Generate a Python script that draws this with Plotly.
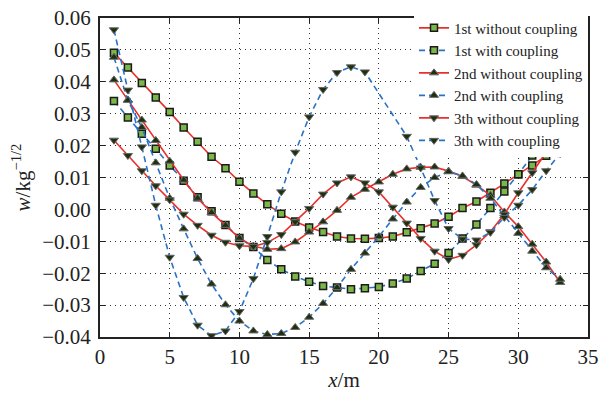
import plotly.graph_objects as go

x = list(range(1, 34))

first_wo = [0.0491, 0.0445, 0.0396, 0.0351, 0.0305, 0.0257, 0.0212, 0.0165, 0.0129, 0.0087,
            0.0050, 0.0016, -0.0014, -0.0038, -0.0057, -0.0071, -0.0085, -0.0091, -0.0092, -0.0090,
            -0.0085, -0.0072, -0.0059, -0.0044, -0.0023, 0.0004, 0.0025, 0.0052, 0.0081, 0.0110,
            0.0138, 0.0168, 0.0198]
first_w = [0.0340, 0.0288, 0.0237, 0.0190, 0.0138, 0.0090, 0.0038, -0.0006, -0.0049, -0.0090,
           -0.0118, -0.0159, -0.0188, -0.0210, -0.0227, -0.0240, -0.0245, -0.0250, -0.0247, -0.0243,
           -0.0232, -0.0217, -0.0193, -0.0170, -0.0137, -0.0091, -0.0047, 0.0004, 0.0056, 0.0110,
           0.0169, 0.0229, None]
second_wo = [0.0406, 0.0343, 0.0280, 0.0216, 0.0151, 0.0092, 0.0035, -0.0010, -0.0050, -0.0090,
             -0.0115, -0.0125, -0.0123, -0.0102, -0.0071, -0.0039, -0.0003, 0.0038, 0.0063, 0.0086,
             0.0110, 0.0127, 0.0132, 0.0133, 0.0120, 0.0103, 0.0076, 0.0044, -0.0008, -0.0054,
             -0.0109, -0.0165, -0.0229]
second_w = [0.0477, 0.0342, 0.0257, 0.0146, 0.0035, -0.0061, -0.0154, -0.0234, -0.0299, -0.0350,
            -0.0381, -0.0392, -0.0389, -0.0370, -0.0338, -0.0295, -0.0245, -0.0188, -0.0137, -0.0085,
            -0.0030, 0.0023, 0.0069, 0.0100, 0.0118, 0.0105, 0.0078, 0.0035, -0.0020, -0.0075,
            -0.0131, -0.0183, -0.0219]
third_wo = [0.0217, 0.0169, 0.0121, 0.0074, 0.0030, -0.0015, -0.0050, -0.0081, -0.0103, -0.0114,
            -0.0116, -0.0104, -0.0079, -0.0039, 0.0003, 0.0048, 0.0083, 0.0102, 0.0083, 0.0055,
            0.0007, -0.0043, -0.0091, -0.0131, -0.0157, -0.0144, -0.0111, -0.0070, -0.0015, 0.0052,
            0.0115, 0.0180, 0.0242]
third_w = [0.0563, 0.0374, 0.0196, 0.0013, -0.0150, -0.0276, -0.0363, -0.0396, -0.0381, -0.0320,
           -0.0217, -0.0085, 0.0055, 0.0179, 0.0290, 0.0376, 0.0429, 0.0447, 0.0431, None,
           None, 0.0229, 0.0130, 0.0028, -0.0060, -0.0093, -0.0096, -0.0072, -0.0025, 0.0013,
           0.0062, 0.0121, 0.0175]

names = ["1st without coupling", "1st with coupling", "2nd without coupling",
         "2nd with coupling", "3th without coupling", "3th with coupling"]
series = [first_wo, first_w, second_wo, second_w, third_wo, third_w]

x_ticks = [0, 5, 10, 15, 20, 25, 30, 35]
y_ticks = [-0.04, -0.03, -0.02, -0.01, 0.00, 0.01, 0.02, 0.03, 0.04, 0.05, 0.06]

RED = "#e8302a"
BLUE = "#2a72c4"
FONT = "Liberation Serif, Times New Roman, serif"

styles = [
    (RED, "solid", "square"),
    (BLUE, "6px,4px", "square"),
    (RED, "solid", "triangle-up"),
    (BLUE, "6px,4px", "triangle-up"),
    (RED, "solid", "triangle-down"),
    (BLUE, "6px,4px", "triangle-down"),
]

fig = go.Figure()
for name, ys, (col, dash, sym) in zip(names, series, styles):
    if sym == "square":
        marker = dict(symbol=sym, size=7, color="#7ab648",
                      line=dict(color="#1a1a1a", width=1.5))
    else:
        marker = dict(symbol=sym, size=8, color="#1e3010",
                      line=dict(color="#666666", width=1))
    fig.add_trace(go.Scatter(
        x=x, y=ys, name=name, mode="lines+markers",
        line=dict(color=col, width=1.6, dash=dash),
        marker=marker, connectgaps=True,
    ))

axis_common = dict(
    showline=True, linecolor="#222", linewidth=2, mirror="ticks",
    ticks="inside", ticklen=5, tickcolor="#222", tickwidth=1,
    showgrid=True, gridcolor="#333", gridwidth=1, griddash="1px,4px",
    zeroline=False, automargin=False, ticklabeloverflow="allow",
    tickfont=dict(family=FONT, size=21, color="#222"),
)

fig.update_xaxes(
    range=[0, 35], tickvals=x_ticks, ticktext=[str(v) for v in x_ticks],
    title=dict(text="<i>x</i>/m", font=dict(family=FONT, size=21, color="#222"), standoff=4),
    **axis_common,
)
fig.update_yaxes(
    range=[-0.04, 0.06], tickvals=y_ticks, tickformat=".2f",
    ticklabelstandoff=3,
    title=dict(text="<i>w</i>/kg<sup>−1/2</sup>", font=dict(family=FONT, size=21, color="#222"), standoff=6),
    **axis_common,
)

fig.update_layout(
    template="none",
    width=607, height=395,
    margin=dict(l=100, r=19, t=13, b=58),
    paper_bgcolor="white", plot_bgcolor="white",
    font=dict(family=FONT, color="#222"),
    showlegend=True,
    legend=dict(
        x=1, y=1.02, xanchor="right", yanchor="top",
        bgcolor="white", borderwidth=0,
        font=dict(family=FONT, size=15, color="#222"),
        itemwidth=30,
    ),
)

# remove the browser's default 8px page margin so the figure sits at the window origin
fig.write_html("out.html",
               config={"displayModeBar": False},
               post_script="document.body.style.margin='0';document.body.style.overflow='hidden';")
